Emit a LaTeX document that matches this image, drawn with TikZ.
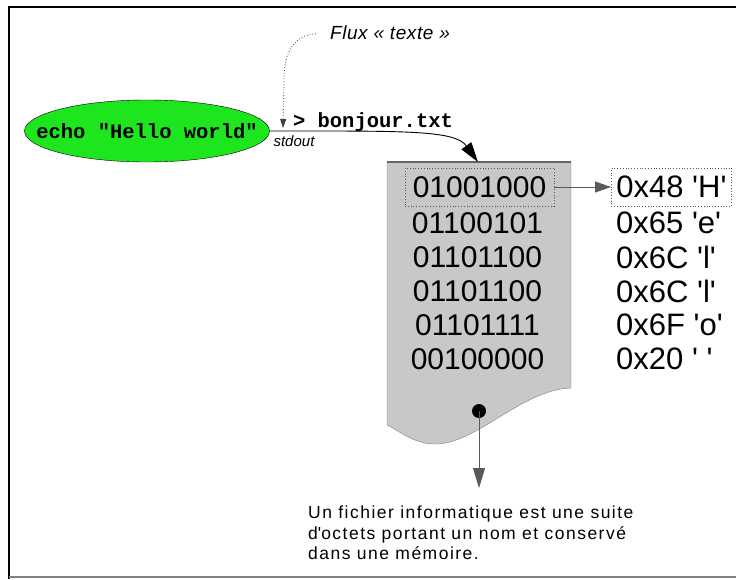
\documentclass[tikz,border=0pt]{standalone}
\usepackage{fontspec}
\setmainfont{Liberation Sans}
\setmonofont{Liberation Mono}
\usetikzlibrary{arrows.meta,shapes.geometric}

\definecolor{echogreen}{RGB}{30,230,30}
\definecolor{filegray}{RGB}{200,200,200}
\newcommand{\q}[1]{\textquotesingle#1\textquotesingle}

\begin{document}
\begin{tikzpicture}[
  x=1pt, y=-1pt,
  command/.style={ellipse, draw, fill=echogreen, minimum width=245pt, minimum height=62pt, inner xsep=-26pt, inner ysep=0pt, font=\ttfamily\bfseries\fontsize{20.5}{22}\selectfont},
  shell/.style={inner sep=0pt, font=\ttfamily\bfseries\fontsize{20.5}{22}\selectfont},
  remark/.style={inner sep=0pt, font=\itshape\fontsize{19}{20}\selectfont\addfontfeatures{LetterSpace=3}},
  byte/.style={inner sep=0pt, minimum width=149pt, minimum height=38pt, font=\fontsize{30}{31}\selectfont},
  hex/.style={anchor=west, inner xsep=5pt, inner ysep=0pt, minimum height=38pt, font=\fontsize{31}{32}\selectfont},
  marked/.style={draw=gray!70!black, dotted, thick},
  note/.style={inner sep=0pt, align=left, font=\fontsize{17.5}{20.5}\selectfont\addfontfeatures{LetterSpace=8.5}},
  direct/.style={-{Triangle[length=16pt, width=11pt]}, draw=gray!70!black, line width=0.8pt},
]
\useasboundingbox (0,0) rectangle (736,579);

% Frame
\draw[line width=2.5pt] (736,7) -- (9,7) -- (9,579);
\draw[gray, line width=1.5pt] (9,577) -- (736,577);

% Command and redirection
\node[command] (echo) at (147,131) {echo "Hello world"};
\node[shell] (redirect) at (373,122) {> bonjour.txt};
\node[remark, font=\itshape\fontsize{15}{16}\selectfont] (stdout) at (294,141) {stdout};
\node[remark] (flux) at (390,33) {Flux « texte »};
\coordinate (pipe) at (283,128);

% File
\filldraw[fill=filegray, draw=gray] (387,162) -- (571,162) -- (571,388)
  .. controls (520,390) and (475,446) .. (433,444)
  .. controls (412,443) and (398,430) .. (387,425) -- cycle;
\draw[line width=2pt, gray!80!black] (387,162) -- (571,162);
\coordinate (filetop) at (478,162);

% Bytes of the file
\node[byte, marked] (b1) at (479.5,187) {01001000};
\node[byte] (b2) at (477.5,223) {01100101};
\node[byte] (b3) at (477.5,257) {01101100};
\node[byte] (b4) at (477.5,291) {01101100};
\node[byte] (b5) at (477.5,325) {01101111};
\node[byte] (b6) at (477.5,359) {00100000};

% Values of the bytes
\node[hex, marked] (h1) at (611,187) {0x48 \q{H}};
\node[hex] (h2) at (611,223) {0x65 \q{e}};
\node[hex] (h3) at (611,257) {0x6C \q{l}};
\node[hex] (h4) at (611,291) {0x6C \q{l}};
\node[hex] (h5) at (611,325) {0x6F \q{o}};
\node[hex] (h6) at (611,359) {0x20 \q{\ }};

% Definition
\node[circle, fill, minimum size=14pt, inner sep=0pt] (dot) at (479,411) {};
\node[note, anchor=north west] (note) at (308,506) {Un fichier informatique est une suite\\d\textquotesingle octets portant un nom et conservé\\dans une mémoire.};
\coordinate (notetip) at (479,488);

% Connectors
\draw[-{Triangle[length=20pt, width=12pt]}, line width=0.9pt] (echo.east) .. controls (405,131) and (455,130) .. (filetop);
\draw[dotted, thick, gray!50!black, -{Triangle[length=9pt, width=6pt]}, shorten <=14pt] (flux.west) .. controls (295,35) and (284,50) .. (284,80) -- (pipe);
\draw[direct] (b1) -- (h1);
\draw[direct, -{Triangle[length=20pt, width=12pt]}] (dot.center) -- (notetip);

\end{tikzpicture}
\end{document}
